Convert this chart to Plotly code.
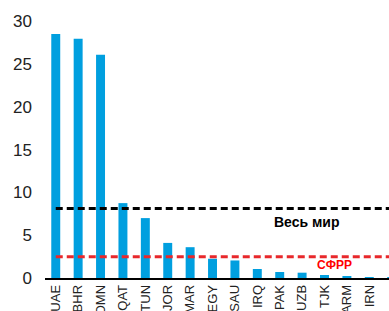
import plotly.graph_objects as go

categories = ["UAE", "BHR", "OMN", "QAT", "TUN", "JOR", "MAR", "EGY", "SAU",
              "IRQ", "PAK", "UZB", "TJK", "ARM", "IRN", "KGZ"]
values = [28.5, 27.95, 26.1, 8.75, 7.0, 4.1, 3.6, 2.25, 2.05,
          1.05, 0.7, 0.62, 0.35, 0.2, 0.03, 0.02]
world_level = [8.12] * len(categories)
sfrr_level = [2.47] * len(categories)
y_ticks = [0, 5, 10, 15, 20, 25, 30]

fig = go.Figure()
fig.add_trace(go.Bar(x=categories, y=values, width=0.4,
                     marker=dict(color="#009FDF", line=dict(width=0)),
                     showlegend=False))
fig.add_trace(go.Scatter(x=categories, y=world_level, mode="lines",
                         line=dict(color="black", width=3, dash="7px,4px"),
                         showlegend=False))
fig.add_trace(go.Scatter(x=categories, y=sfrr_level, mode="lines",
                         line=dict(color="#E8282B", width=3, dash="7px,4px"),
                         showlegend=False))

fig.add_annotation(text="<b>Весь мир</b>", xref="paper", yref="y",
                   x=0.862, y=6.6, showarrow=False,
                   font=dict(family="Liberation Sans", size=14, color="black"))
fig.add_annotation(text="<b>СФРР</b>", xref="paper", yref="y",
                   x=0.897, y=1.5, showarrow=False,
                   font=dict(family="Liberation Sans", size=12, color="#FF0000"))

fig.update_layout(
    width=389, height=311,
    margin=dict(l=45, r=0, t=17, b=33),
    paper_bgcolor="white", plot_bgcolor="white",
    font=dict(family="Liberation Sans", color="#222"),
)
fig.update_xaxes(type="category", range=[-0.48, 14.88], tickangle=-90,
                 showline=True, linecolor="black", linewidth=1.5,
                 showgrid=False, ticks="", tickfont=dict(size=13, color="#222"),
                 ticklabelstandoff=0, automargin=False)
fig.update_yaxes(range=[0, 30.5], tickvals=y_ticks, showgrid=False,
                 zeroline=False, showline=False, ticks="",
                 tickfont=dict(size=17, color="#222"), ticklabelstandoff=12,
                 automargin=False)

fig.write_html("out.html", config={"displayModeBar": False},
               post_script="document.body.style.margin='0';document.body.style.overflow='hidden';")
